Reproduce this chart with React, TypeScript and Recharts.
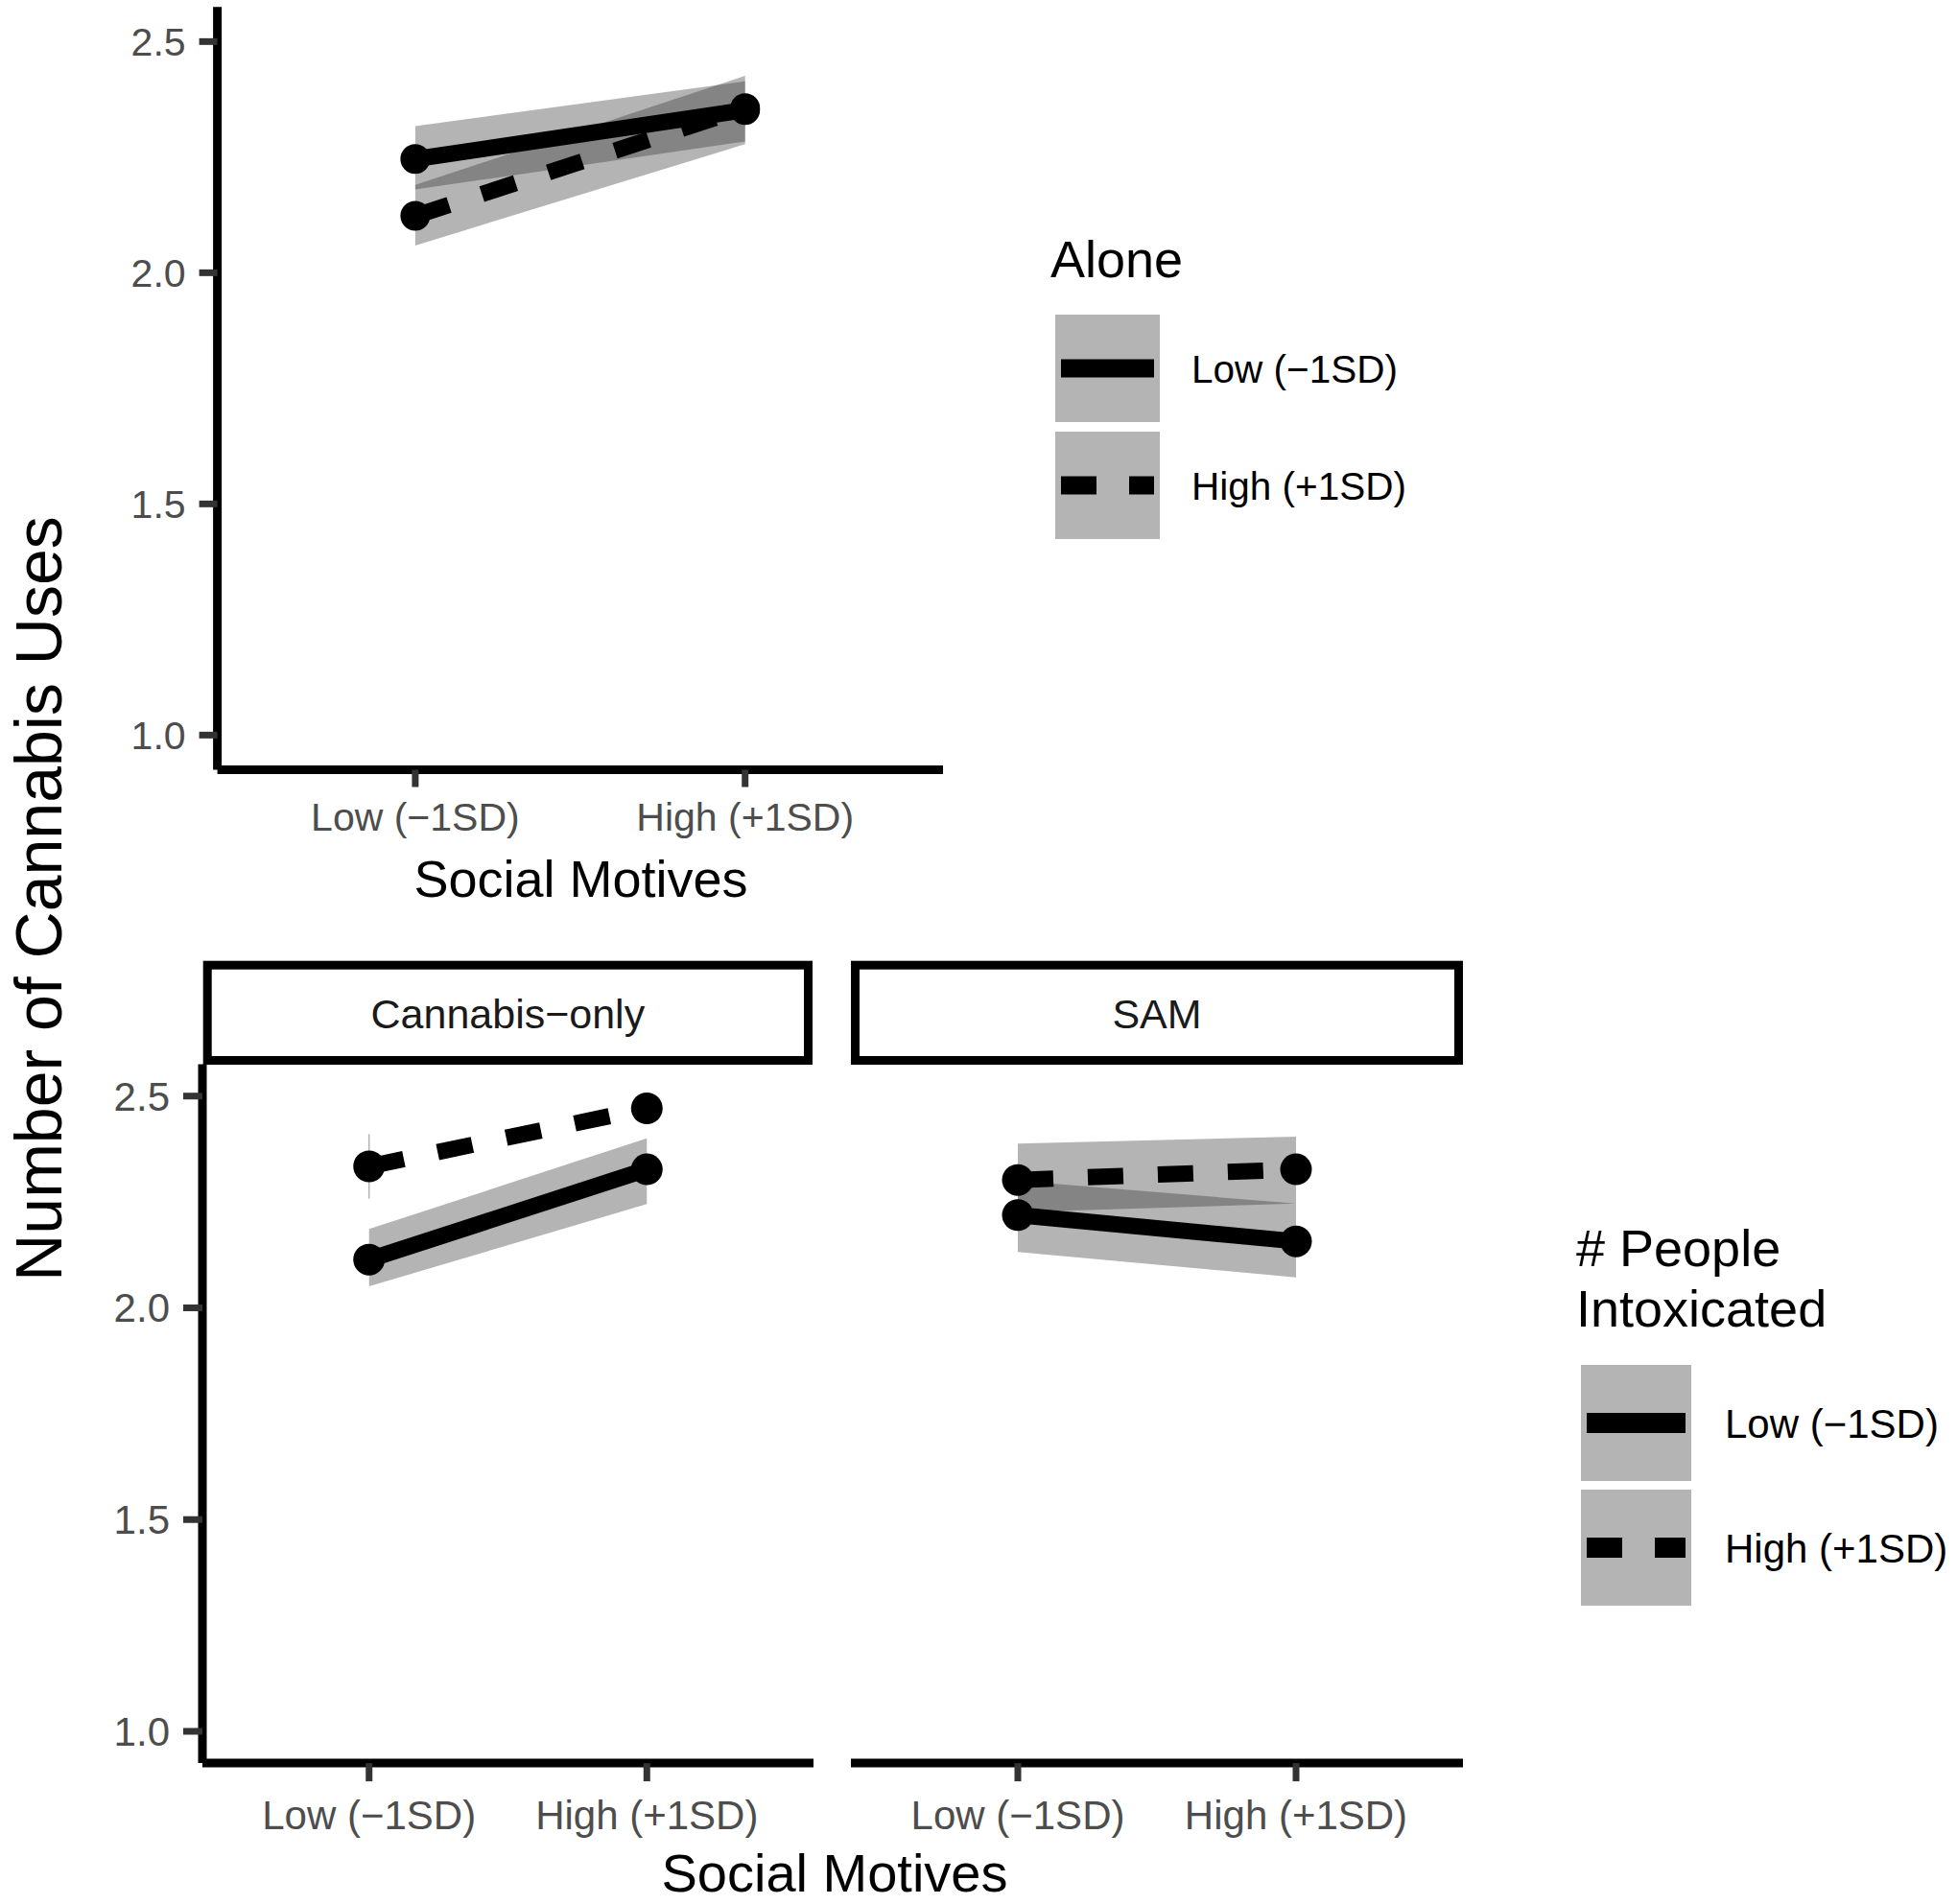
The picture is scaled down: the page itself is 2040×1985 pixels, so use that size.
import { ComposedChart, Area, Line, XAxis, YAxis, ErrorBar } from "recharts";

const FONT = "'Liberation Sans', Arial, Helvetica, sans-serif";

// x categories (Social Motives) and y ticks
const xLevels = ["Low (−1SD)", "High (+1SD)"];
const xPos = [1, 2];
const yTicks = [1.0, 1.5, 2.0, 2.5];
const groupLabels = ["Low (−1SD)", "High (+1SD)"];
const facetNames = ["Cannabis−only", "SAM"];

// top panel: Alone
const aloneLow = [2.246, 2.352];
const aloneLowCiLo = [2.18, 2.284];
const aloneLowCiHi = [2.317, 2.414];
const aloneHigh = [2.123, 2.356];
const aloneHighCiLo = [2.059, 2.278];
const aloneHighCiHi = [2.19, 2.426];

// bottom panel: Cannabis-only
const canLow = [2.114, 2.327];
const canLowCiLo = [2.051, 2.245];
const canLowCiHi = [2.186, 2.4];
const canHigh = [2.334, 2.471];
const canHighErr = [0.076, 0];

// bottom panel: SAM
const samLow = [2.219, 2.157];
const samLowCiLo = [2.132, 2.072];
const samLowCiHi = [2.3, 2.246];
const samHigh = [2.302, 2.327];
const samHighCiLo = [2.226, 2.246];
const samHighCiHi = [2.388, 2.404];

const makeRows = (low, lowLo, lowHi, high, highLo, highHi, highErr) =>
  xPos.map((x, i) => ({
    x,
    low: low[i],
    lowCi: lowLo ? [lowLo[i], lowHi[i]] : undefined,
    high: high[i],
    highCi: highLo ? [highLo[i], highHi[i]] : undefined,
    highErr: highErr ? highErr[i] : undefined,
  }));

const aloneRows = makeRows(aloneLow, aloneLowCiLo, aloneLowCiHi, aloneHigh, aloneHighCiLo, aloneHighCiHi, null);
const canRows = makeRows(canLow, canLowCiLo, canLowCiHi, canHigh, null, null, canHighErr);
const samRows = makeRows(samLow, samLowCiLo, samLowCiHi, samHigh, samHighCiLo, samHighCiHi, null);

function Panel({ data, width, height, margin, hideY, fs, xTick, yTick, r, lowBand, highBand, withErr }) {
  const dot = { r, fill: "#000", stroke: "none", strokeWidth: 0, strokeDasharray: "none" };
  return (
    <ComposedChart width={width} height={height} data={data} margin={margin}>
      <XAxis
        dataKey="x"
        type="number"
        domain={[0.4, 2.6]}
        ticks={xPos}
        allowDataOverflow
        interval={0}
        height={60}
        tickFormatter={(v) => xLevels[v - 1]}
        axisLine={{ stroke: "#000", strokeWidth: 9 }}
        tickLine={{ stroke: "#333", strokeWidth: 7 }}
        tickSize={xTick[0]}
        tickMargin={xTick[1]}
        tick={{ fill: "#4d4d4d", fontSize: fs, fontFamily: FONT }}
      />
      <YAxis
        type="number"
        domain={[0.925, 2.575]}
        ticks={yTicks}
        allowDataOverflow
        interval={0}
        hide={hideY}
        width={hideY ? 0 : 120}
        tickFormatter={(v) => v.toFixed(1)}
        axisLine={{ stroke: "#000", strokeWidth: 9 }}
        tickLine={{ stroke: "#333", strokeWidth: 7 }}
        tickSize={yTick[0]}
        tickMargin={yTick[1]}
        tick={{ fill: "#4d4d4d", fontSize: fs, fontFamily: FONT }}
      />
      {lowBand && (
        <Area dataKey="lowCi" type="linear" stroke="none" fill="#333" fillOpacity={0.37}
          dot={false} activeDot={false} isAnimationActive={false} />
      )}
      {highBand && (
        <Area dataKey="highCi" type="linear" stroke="none" fill="#333" fillOpacity={0.37}
          dot={false} activeDot={false} isAnimationActive={false} />
      )}
      <Line dataKey="low" type="linear" stroke="#000" strokeWidth={17} dot={dot}
        activeDot={false} isAnimationActive={false} />
      <Line dataKey="high" type="linear" stroke="#000" strokeWidth={17} strokeDasharray="37 36"
        dot={dot} activeDot={false} isAnimationActive={false}>
        {withErr && (
          <ErrorBar dataKey="highErr" direction="y" width={0} stroke="#b3b3b3" strokeWidth={1.5}
            strokeDasharray="none" isAnimationActive={false} />
        )}
      </Line>
    </ComposedChart>
  );
}

function KeyLegend({ titles, titleX, titleY, keyX, keyW, keyH, keyY, lineW, labelX, labelFs }) {
  return (
    <g>
      {titles.map((t, i) => (
        <text key={t} x={titleX} y={titleY[i]} fontSize={54} fontFamily={FONT} fill="#000">{t}</text>
      ))}
      {groupLabels.map((lab, i) => (
        <g key={lab}>
          <rect x={keyX} y={keyY[i]} width={keyW} height={keyH} fill="#333" fillOpacity={0.37} />
          <line x1={keyX + 6} x2={keyX + keyW - 6} y1={keyY[i] + keyH / 2} y2={keyY[i] + keyH / 2}
            stroke="#000" strokeWidth={lineW} strokeDasharray={i === 1 ? "37 34" : undefined} />
          <text x={labelX} y={keyY[i] + keyH / 2 + 15} fontSize={labelFs} fontFamily={FONT} fill="#000">{lab}</text>
        </g>
      ))}
    </g>
  );
}

export default function App() {
  return (
    <div style={{ position: "absolute", left: 0, top: 0, width: 2040, height: 1985, background: "#fff" }}>
      <div style={{ position: "absolute", left: 0, top: 0 }}>
        <Panel data={aloneRows} width={1000} height={900}
          margin={{ top: 7.2, right: 17, bottom: 37.5, left: 106.6 }}
          fs={41} xTick={[18, 16]} yTick={[19, 14]} r={15.5} lowBand highBand />
      </div>
      <div style={{ position: "absolute", left: 0, top: 1000 }}>
        <Panel data={canRows} width={880} height={985}
          margin={{ top: 109.6, right: 32, bottom: 86.9, left: 91 }}
          fs={42} xTick={[19, 20]} yTick={[20, 14]} r={16.5} lowBand withErr />
      </div>
      <div style={{ position: "absolute", left: 860, top: 1000 }}>
        <Panel data={samRows} width={700} height={985}
          margin={{ top: 109.6, right: 35, bottom: 86.9, left: 27 }} hideY
          fs={42} xTick={[19, 20]} yTick={[20, 14]} r={16.5} lowBand highBand />
      </div>
      <svg width={2040} height={1985} style={{ position: "absolute", left: 0, top: 0, pointerEvents: "none" }}>
        <text x={64} y={937} transform="rotate(-90 64 937)" textAnchor="middle" fontSize={68}
          fontFamily={FONT} fill="#000">Number of Cannabis Uses</text>
        <text x={605.5} y={935} textAnchor="middle" fontSize={54} fontFamily={FONT} fill="#000">Social Motives</text>
        <text x={870} y={1972} textAnchor="middle" fontSize={56} fontFamily={FONT} fill="#000">Social Motives</text>
        {facetNames.map((f, i) => {
          const x0 = i === 0 ? 216.2 : 891.5;
          const w = i === 0 ? 626.3 : 629;
          return (
            <g key={f}>
              <rect x={x0} y={1006.2} width={w} height={99.3} fill="#fff" stroke="#000" strokeWidth={9} />
              <text x={x0 + w / 2} y={1072} textAnchor="middle" fontSize={43} fontFamily={FONT} fill="#1a1a1a">{f}</text>
            </g>
          );
        })}
        <KeyLegend titles={["Alone"]} titleX={1095} titleY={[289]} keyX={1100} keyW={109} keyH={112}
          keyY={[328, 450]} lineW={19} labelX={1242} labelFs={40.5} />
        <KeyLegend titles={["# People", "Intoxicated"]} titleX={1643} titleY={[1320, 1383]} keyX={1648}
          keyW={115} keyH={121} keyY={[1423, 1553]} lineW={21} labelX={1798} labelFs={42} />
      </svg>
    </div>
  );
}
